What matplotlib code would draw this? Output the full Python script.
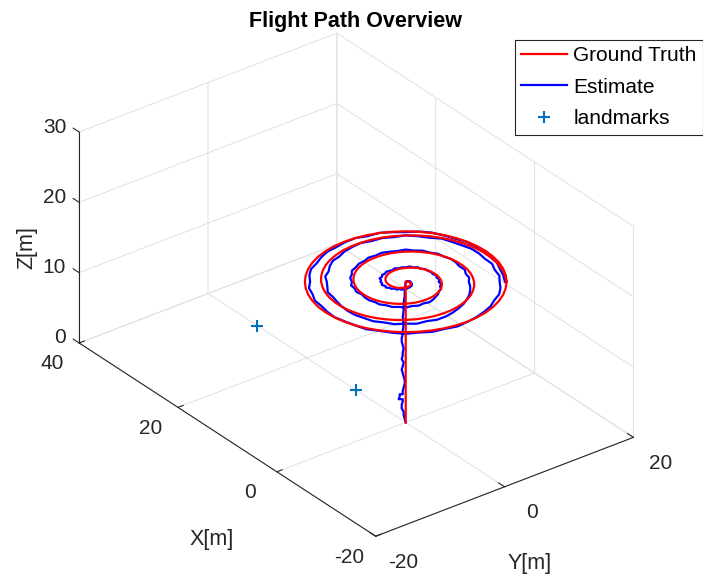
import numpy as np
import matplotlib
matplotlib.use("Agg")
import matplotlib.pyplot as plt
from matplotlib.lines import Line2D
from matplotlib.ticker import NullFormatter
from mpl_toolkits.mplot3d import proj3d

plt.rcParams['font.family'] = ['Liberation Sans', 'DejaVu Sans']
plt.rcParams['axes.unicode_minus'] = False

# ---- data -----------------------------------------------------------------
# ground truth: vertical climb at the origin, then a flat spiral at 20 m
gt_climb_z = [0.0, 20.0]
cruise_alt = 20.0

# spiral samples every 7.5 deg of heading, starting at 90 deg
spiral_heading_deg = np.arange(90.0, 1568.0, 7.5)
gt_radius_m = [
    0.00, 0.08, 0.17, 0.25, 0.33, 0.42, 0.50, 0.58, 0.67, 0.75, 0.83, 0.92,
    1.00, 1.08, 1.17, 1.25, 1.33, 1.42, 1.50, 1.58, 1.67, 1.75, 1.83, 1.92,
    2.00, 2.08, 2.17, 2.25, 2.33, 2.42, 2.50, 2.58, 2.67, 2.75, 2.83, 2.92,
    3.00, 3.08, 3.17, 3.25, 3.33, 3.42, 3.50, 3.58, 3.67, 3.75, 3.83, 3.92,
    4.00, 4.08, 4.17, 4.25, 4.33, 4.42, 4.50, 4.58, 4.67, 4.75, 4.83, 4.92,
    5.00, 5.08, 5.17, 5.25, 5.33, 5.42, 5.50, 5.58, 5.67, 5.75, 5.83, 5.92,
    6.00, 6.08, 6.17, 6.25, 6.33, 6.42, 6.50, 6.58, 6.67, 6.75, 6.83, 6.92,
    7.00, 7.08, 7.17, 7.25, 7.33, 7.42, 7.50, 7.58, 7.67, 7.75, 7.83, 7.92,
    8.00, 8.08, 8.17, 8.25, 8.33, 8.42, 8.50, 8.58, 8.67, 8.75, 8.83, 8.92,
    9.00, 9.08, 9.17, 9.25, 9.33, 9.42, 9.50, 9.58, 9.67, 9.75, 9.83, 9.92,
    10.00, 10.08, 10.17, 10.25, 10.33, 10.42, 10.50, 10.58, 10.67, 10.75, 10.83, 10.92,
    11.00, 11.08, 11.17, 11.25, 11.33, 11.42, 11.50, 11.58, 11.67, 11.75, 11.83, 11.92,
    12.00, 12.08, 12.17, 12.25, 12.33, 12.42, 12.42, 12.42, 12.42, 12.42, 12.42, 12.42,
    12.42, 12.42, 12.42, 12.42, 12.42, 12.42, 12.42, 12.42, 12.42, 12.42, 12.42, 12.42,
    12.42, 12.42, 12.42, 12.42, 12.42, 12.42, 12.42, 12.42, 12.42, 12.42, 12.42, 12.42,
    12.42, 12.42, 12.42, 12.42, 12.42, 12.42, 12.42, 12.42, 12.42, 12.42, 12.42, 12.42,
    12.42, 12.42, 12.42, 12.42, 12.42, 12.42,
]

# estimate: climb with lateral drift, then radial error against the truth
est_climb_x = [0.00, 0.07, 0.15, 0.15, 0.30, 0.30, 0.22, 0.22, 0.52, 0.44, 0.44, 0.22,
               0.22, 0.15, 0.07, 0.07, 0.15, 0.22, 0.30, 0.22, 0.15, 0.30, 0.22, 0.22,
               0.15, 0.22, 0.30, 0.30, 0.22, 0.22, 0.15, 0.22, 0.15, 0.15, 0.07, 0.07, 0.00]
est_climb_y = [0.00, -0.10, -0.20, -0.20, -0.39, -0.39, -0.29, -0.29, -0.69, -0.59, -0.59, -0.29,
               -0.29, -0.20, -0.10, -0.10, -0.20, -0.29, -0.39, -0.29, -0.20, -0.39, -0.29, -0.29,
               -0.20, -0.29, -0.39, -0.39, -0.29, -0.29, -0.20, -0.29, -0.20, -0.20, -0.10, -0.10, 0.00]
est_climb_z = [0.0, 0.5, 1.0, 1.5, 2.0, 2.5, 3.0, 3.3, 3.3, 3.7, 4.0, 4.0,
               4.5, 5.0, 5.5, 6.0, 6.5, 7.0, 7.5, 8.0, 8.5, 9.0, 9.5, 10.0,
               10.5, 11.0, 11.5, 12.0, 12.5, 13.0, 14.0, 15.0, 16.0, 17.0, 18.0, 19.0, 20.0]
est_radius_err_m = [
    0.10, 0.20, 0.00, 0.15, 0.25, 0.10, 0.05, -0.10, 0.05, 0.15, 0.00, 0.15,
    0.25, 0.05, 0.30, 0.20, 0.35, 0.10, 0.30, 0.45, 0.25, 0.50, 0.30, 0.55,
    0.50, 0.75, 0.55, 0.80, 0.60, 0.70, 0.55, 0.75, 0.50, 0.60, 0.40, 0.50,
    0.35, 0.20, 0.40, 0.15, 0.25, 0.10, 0.30, 0.05, 0.20, -0.05, 0.10, -0.10,
    -0.05, -0.25, -0.10, -0.30, -0.15, -0.35, -0.10, -0.20, 0.05, -0.05, 0.20, 0.30,
    0.55, 0.75, 0.60, 0.85, 0.70, 0.95, 0.75, 0.85, 0.60, 0.70, 0.45, 0.50,
    0.35, 0.15, 0.40, 0.25, 0.45, 0.20, 0.40, 0.30, 0.50, 0.35, 0.45, 0.30,
    0.50, 0.35, 0.55, 0.40, 0.30, 0.50, 0.25, 0.35, 0.10, 0.20, -0.05, 0.00,
    -0.20, -0.45, -0.30, -0.60, -0.45, -0.65, -0.50, -0.35, -0.20, -0.05, 0.15, 0.30,
    0.55, 0.80, 0.95, 0.80, 1.10, 0.90, 1.05, 0.80, 0.85, 0.55, 0.45, 0.20,
    -0.05, -0.30, -0.45, -0.30, -0.60, -0.70, -0.50, -0.75, -0.55, -0.40, -0.55, -0.30,
    -0.20, -0.05, -0.30, -0.10, -0.25, 0.00, -0.20, -0.35, -0.15, -0.40, -0.50, -0.45,
    -0.60, -0.80, -0.65, -0.90, -0.70, -0.85, -0.65, -0.50, -0.60, -0.35, -0.25, -0.10,
    0.05, 0.30, 0.15, 0.35, 0.20, 0.40, 0.25, 0.10, 0.25, 0.00, -0.10, -0.05,
    -0.25, -0.45, -0.30, -0.55, -0.40, -0.65, -0.45, -0.35, -0.55, -0.40, -0.25, -0.35,
    -0.15, 0.00, -0.25, 0.05, -0.10, -0.20, 0.05, 0.10, -0.10, -0.20, -0.05, -0.30,
    -0.20, -0.35, -0.25, -0.40, -0.30, -0.20,
]

landmark_x = [10.0, 30.0]
landmark_y = [0.0, 0.0]
landmark_z = [0.0, 0.0]

x_ticks = [-20, 0, 20, 40]
y_ticks = [-20, 0, 20]
z_ticks = [0, 10, 20, 30]

# ---- build the paths ------------------------------------------------------
phi = np.deg2rad(spiral_heading_deg)
gt_r = np.array(gt_radius_m)
est_r = gt_r + np.array(est_radius_err_m)

gt_x = np.concatenate([[0.0, 0.0], gt_r * np.cos(phi)])
gt_y = np.concatenate([[0.0, 0.0], gt_r * np.sin(phi)])
gt_z = np.concatenate([gt_climb_z, np.full(len(phi), cruise_alt)])

est_x = np.concatenate([est_climb_x, est_r * np.cos(phi)])
est_y = np.concatenate([est_climb_y, est_r * np.sin(phi)])
est_z = np.concatenate([est_climb_z, np.full(len(phi), cruise_alt)])

# ---- figure ---------------------------------------------------------------
TXT = '#262626'
fig = plt.figure(figsize=(7.03, 5.77), dpi=100)
ax = fig.add_axes([-0.0043, -0.0069, 1.0, 1.0], projection='3d')
ax.set_proj_type('ortho')
ax.view_init(elev=30, azim=142.5)
ax.computed_zorder = False

ax.plot(est_x, est_y, est_z, color='#0000FF', lw=1.6)
ax.plot(gt_x, gt_y, gt_z, color='#FF0000', lw=1.6)
ax.plot(landmark_x, landmark_y, landmark_z, ls='none', marker='+',
        ms=8, mew=1.5, color='#0072BD')

ax.set_xlim(-20, 40)
ax.set_ylim(20, -20)
ax.set_zlim(0, 30)
ax.set_xticks(x_ticks)
ax.set_yticks(y_ticks)
ax.set_zticks(z_ticks)
ax.set_box_aspect((60, 40, 30), zoom=1.067)

for axis in (ax.xaxis, ax.yaxis, ax.zaxis):
    axis.set_pane_color((1, 1, 1, 0))
    axis._axinfo['grid'].update(color='#e0e0e0', linewidth=0.7)
    axis._axinfo['axisline']['color'] = TXT
    axis._axinfo['tick'].update(inward_factor=0.0, outward_factor=0.25)
    axis.line.set_color(TXT)
    axis.line.set_linewidth(0.8)
    axis.set_major_formatter(NullFormatter())
ax.zaxis.set_ticks_position('lower')
ax.tick_params(colors=TXT)

# tick labels, offset in pixels from the projected tick positions
fig.canvas.draw()
M = ax.get_proj()


def tick_label(text, xyz, dx, dy, ha='center'):
    px, py, _ = proj3d.proj_transform(*xyz, M)
    ax.annotate(text, xy=(px, py), xycoords='data', xytext=(dx, dy),
                textcoords='offset pixels', ha=ha, va='center',
                fontsize=15, color=TXT, annotation_clip=False)


for t in x_ticks:
    tick_label(str(t), (t, -20, 0), -27, -21)
for t in y_ticks:
    tick_label(str(t), (-20, t, 0), 27, -26)
for t in z_ticks:
    tick_label(str(t), (40, -20, t), -13, 5, ha='right')

fig.text(0.506, 1 - 22 / 577, 'Flight Path Overview', ha='center', va='center',
         fontsize=15.5, fontweight='bold', color='k')
fig.text(212 / 703, 1 - 540 / 577, 'X[m]', ha='center', va='center', fontsize=15.5, color=TXT)
fig.text(530 / 703, 1 - 564 / 577, 'Y[m]', ha='center', va='center', fontsize=15.5, color=TXT)
fig.text(27 / 703, 1 - 248 / 577, 'Z[m]', ha='center', va='center', fontsize=15.5,
         color=TXT, rotation=90)

handles = [Line2D([], [], color='#FF0000', lw=1.6),
           Line2D([], [], color='#0000FF', lw=1.6),
           Line2D([], [], ls='none', marker='+', ms=8, mew=1.5, color='#0072BD')]
leg = fig.legend(handles, ['Ground Truth', 'Estimate', 'landmarks'],
                 loc='upper right', bbox_to_anchor=(1.0, 1 - 40 / 577),
                 fontsize=15, frameon=True, fancybox=False, framealpha=1,
                 edgecolor=TXT, handlelength=2.2, handletextpad=0.3,
                 borderpad=0.3, labelspacing=0.6, borderaxespad=0)
leg.get_frame().set_linewidth(0.8)

fig.savefig('out.png', dpi=100)
